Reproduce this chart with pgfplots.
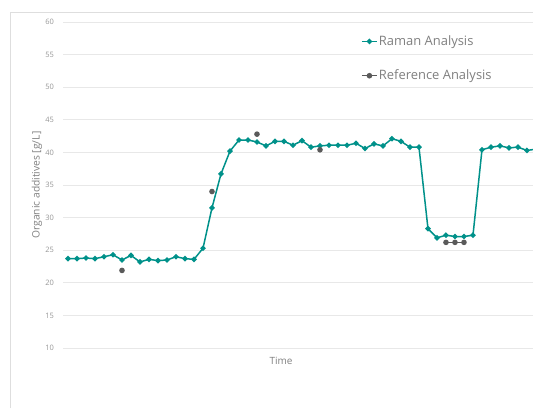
\documentclass[border=0pt]{standalone}
\usepackage{fontspec}
\setmainfont{Open Sans}
\usepackage{pgfplots}
\pgfplotsset{compat=1.18}
\definecolor{raman}{RGB}{0,145,138}
\definecolor{refc}{RGB}{90,90,90}
\definecolor{gridc}{RGB}{232,232,232}
\definecolor{txt}{RGB}{127,127,127}
\definecolor{tick}{RGB}{150,150,150}
\definecolor{framec}{RGB}{222,222,222}
\begin{document}
\begin{tikzpicture}[x=1bp,y=1bp]
\useasboundingbox (0,0) rectangle (533,408);
\draw[framec, line width=0.75bp] (10,0) -- (10,396) -- (533,396);
\begin{axis}[
  at={(63bp,60bp)}, anchor=south west,
  scale only axis, width=470bp, height=326bp,
  xmin=-0.556, xmax=51.67, ymin=10, ymax=60,
  ytick={10,15,...,60}, xtick=\empty,
  ymajorgrids, major grid style={gridc, line width=0.8bp},
  axis line style={draw=none},
  major tick length=0pt,
  /pgf/number format/assume math mode=true,
  yticklabel style={font=\fontsize{7.5}{9}\selectfont, text=tick, inner sep=0pt, anchor=east, xshift=-9bp},
  xlabel={Time},
  xlabel style={at={(axis description cs:0.464,-0.04)}, anchor=center, font=\fontsize{10}{12}\selectfont, text=txt},
  ylabel={Organic additives [g/L]},
  ylabel style={at={(axis description cs:-0.0553,0.5)}, anchor=center, rotate=0, font=\fontsize{10.3}{12}\selectfont, text=txt},
  unbounded coords=jump,
  legend style={draw=none, fill=none, at={(axis description cs:0.634,0.962)}, anchor=north west,
    font=\fontsize{13}{15}\selectfont, text=txt, row sep=20.5bp, inner sep=0pt,
    nodes={inner sep=1.2bp}},
  legend cell align=left,
  legend image code/.code={\draw[mark repeat=2,mark phase=2,#1] plot coordinates {(0bp,0bp) (7.5bp,0bp) (15bp,0bp)};},
]
\addplot[raman, line width=1.5bp, mark=*, mark size=1.9bp, mark options={fill=raman, draw=none}] coordinates {
(0,23.7) (1,23.7) (2,23.8) (3,23.7) (4,24.0) (5,24.3) (6,23.5) (7,24.2) (8,23.2) (9,23.6)
(10,23.4) (11,23.5) (12,24.0) (13,23.7) (14,23.6) (15,25.3) (16,31.5) (17,36.7) (18,40.2) (19,41.9)
(20,41.9) (21,41.6) (22,41.0) (23,41.7) (24,41.7) (25,41.1) (26,41.8) (27,40.8) (28,41.0) (29,41.1)
(30,41.1) (31,41.1) (32,41.4) (33,40.6) (34,41.3) (35,41.0) (36,42.1) (37,41.7) (38,40.8) (39,40.8)
(40,28.3) (41,26.9) (42,27.3) (43,27.1) (44,27.1) (45,27.3) (46,40.4) (47,40.8) (48,41.0) (49,40.7)
(50,40.8) (51,40.3) (52,40.5)
};
\addlegendentry{Raman Analysis}
\addplot[refc, line width=1.5bp, mark=*, mark size=2bp, mark options={fill=refc, draw=none}] coordinates {
(6,21.9) (7,nan) (16,34.0) (17,nan) (21,42.8) (22,nan) (28,40.4) (29,nan)
(42,26.2) (43,26.2) (44,26.2)
};
\addlegendentry{Reference Analysis}
\end{axis}
\end{tikzpicture}
\end{document}
